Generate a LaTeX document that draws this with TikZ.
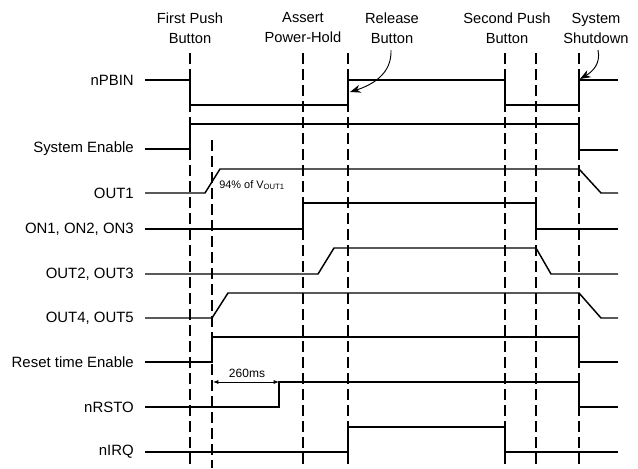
\documentclass[tikz,border=0pt]{standalone}
\usepackage{fontspec}
\setmainfont{Liberation Sans}
\usetikzlibrary{arrows.meta}
\begin{document}
\begin{tikzpicture}[x=0.75pt,y=-0.75pt,
  sig/.style={line width=1.1pt, line join=miter},
  guide/.style={line width=1.5pt, dash pattern=on 8pt off 4pt},
  lbl/.style={anchor=east, font=\fontsize{11.2}{12}\selectfont, inner sep=0pt},
  hdr/.style={align=center, font=\fontsize{11}{15}\selectfont, inner sep=0pt},
  note/.style={font=\fontsize{8.2}{9}\selectfont, inner sep=0pt},
  curvearrow/.style={-{Stealth[length=8pt,width=6pt]}, line width=0.7pt},
  dimarrow/.style={{Latex[length=4pt,width=3pt]}-{Latex[length=4pt,width=3pt]}, line width=0.6pt},
]
\useasboundingbox (0,0) rectangle (638,468);

% headers
\node[hdr] (h1) at (190,28) {First Push\\Button};
\node[hdr] (h2) at (303,28) {Assert\\Power-Hold};
\node[hdr] (h3) at (392,28) {Release\\Button};
\node[hdr] (h4) at (507,28) {Second Push\\Button};
\node[hdr] (h5) at (596,28) {System\\Shutdown};

% guides
\foreach \x in {190,303,348,505,536,579} \draw[guide] (\x,53) -- (\x,468);
\draw[guide] (212,140) -- (212,468);

% labels
\node[lbl] (l1) at (134,80) {nPBIN};
\node[lbl] (l2) at (134,149) {System Enable};
\node[lbl] (l3) at (134,193) {OUT1};
\node[lbl] (l4) at (134,229) {ON1, ON2, ON3};
\node[lbl] (l5) at (134,274) {OUT2, OUT3};
\node[lbl] (l6) at (134,318) {OUT4, OUT5};
\node[lbl] (l7) at (134,362) {Reset time Enable};
\node[lbl] (l8) at (134,407) {nRSTO};
\node[lbl] (l9) at (134,452) {nIRQ};

% signals
\draw[sig] (145,80) -- (190,80) -- (190,105) -- (348,105) -- (348,80) -- (505,80) -- (505,105) -- (579,105) -- (579,80) -- (618,80);
\draw[sig] (145,149) -- (190,149) -- (190,124) -- (579,124) -- (579,150) -- (618,150);
\draw[sig] (145,193) -- (205,193) -- (220,169) -- (579,169) -- (601,193) -- (618,193);
\draw[sig] (145,229) -- (303,229) -- (303,203) -- (536,203) -- (536,229) -- (618,229);
\draw[sig] (145,274) -- (318,274) -- (334,248) -- (536,248) -- (551,274) -- (618,274);
\draw[sig] (145,318) -- (212,318) -- (228,293) -- (579,293) -- (601,318) -- (618,318);
\draw[sig] (145,362) -- (212,362) -- (212,337) -- (579,337) -- (579,362) -- (618,362);
\draw[sig] (145,407) -- (279,407) -- (279,382) -- (579,382) -- (579,407) -- (618,407);
\draw[sig] (145,452) -- (348,452) -- (348,427) -- (505,427) -- (505,452) -- (618,452);

% annotations
\node[note, anchor=west] (pct) at (219,185) {94\% of V\textsubscript{OUT1}};
\coordinate (ra) at (213,382);
\coordinate (rb) at (279,382);
\draw[dimarrow] (ra) -- (rb);
\node[note, font=\fontsize{9}{10}\selectfont] (t260) at (247,373) {260ms};

\coordinate (relTip) at (350,92);
\coordinate (shTip) at (580,79);
\draw[curvearrow] (391,50) .. controls (392,74) and (372,85) .. (relTip);
\draw[curvearrow] (598,50) .. controls (601,64) and (592,72) .. (shTip);
\end{tikzpicture}
\end{document}
